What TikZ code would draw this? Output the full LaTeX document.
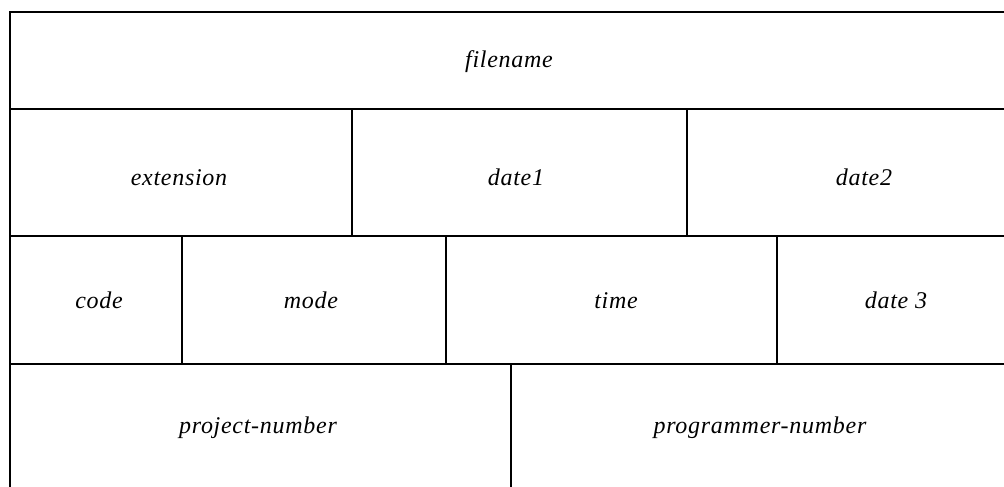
\documentclass[tikz,border=0pt]{standalone}
\usepackage{fontspec}
\setmainfont{Liberation Serif}
\newfontfamily\cellfont[LetterSpace=3]{Liberation Serif}
\begin{document}
\begin{tikzpicture}[x=1pt,y=-1pt,
  rule/.style={line width=2pt,black},
  cell/.style={anchor=base,inner sep=0pt,font=\cellfont\fontsize{24}{28}\selectfont\itshape}]
\useasboundingbox (0,0) rectangle (1004,487);
% outer frame (open at right and bottom)
\draw[rule] (1004,12) -- (10,12) -- (10,487);
% horizontal rules
\draw[rule] (10,109) -- (1004,109);
\draw[rule] (10,236) -- (1004,236);
\draw[rule] (10,364) -- (1004,364);
% vertical rules
\draw[rule] (352,109) -- (352,236);
\draw[rule] (687,109) -- (687,236);
\draw[rule] (182,236) -- (182,364);
\draw[rule] (446,236) -- (446,364);
\draw[rule] (777,236) -- (777,364);
\draw[rule] (511,364) -- (511,487);
% labels
\node[cell] (filename) at (509,68) {filename};
\node[cell] (extension) at (179,185) {extension};
\node[cell] (date1) at (516,185) {date1};
\node[cell] (date2) at (864,185) {date2};
\node[cell] (code) at (99,308) {code};
\node[cell] (mode) at (311,308) {mode};
\node[cell] (time) at (616,308) {time};
\node[cell] (date3) at (896,308) {date 3};
\node[cell] (project) at (258,433) {project-number};
\node[cell] (programmer) at (760,433) {programmer-number};
\end{tikzpicture}
\end{document}
